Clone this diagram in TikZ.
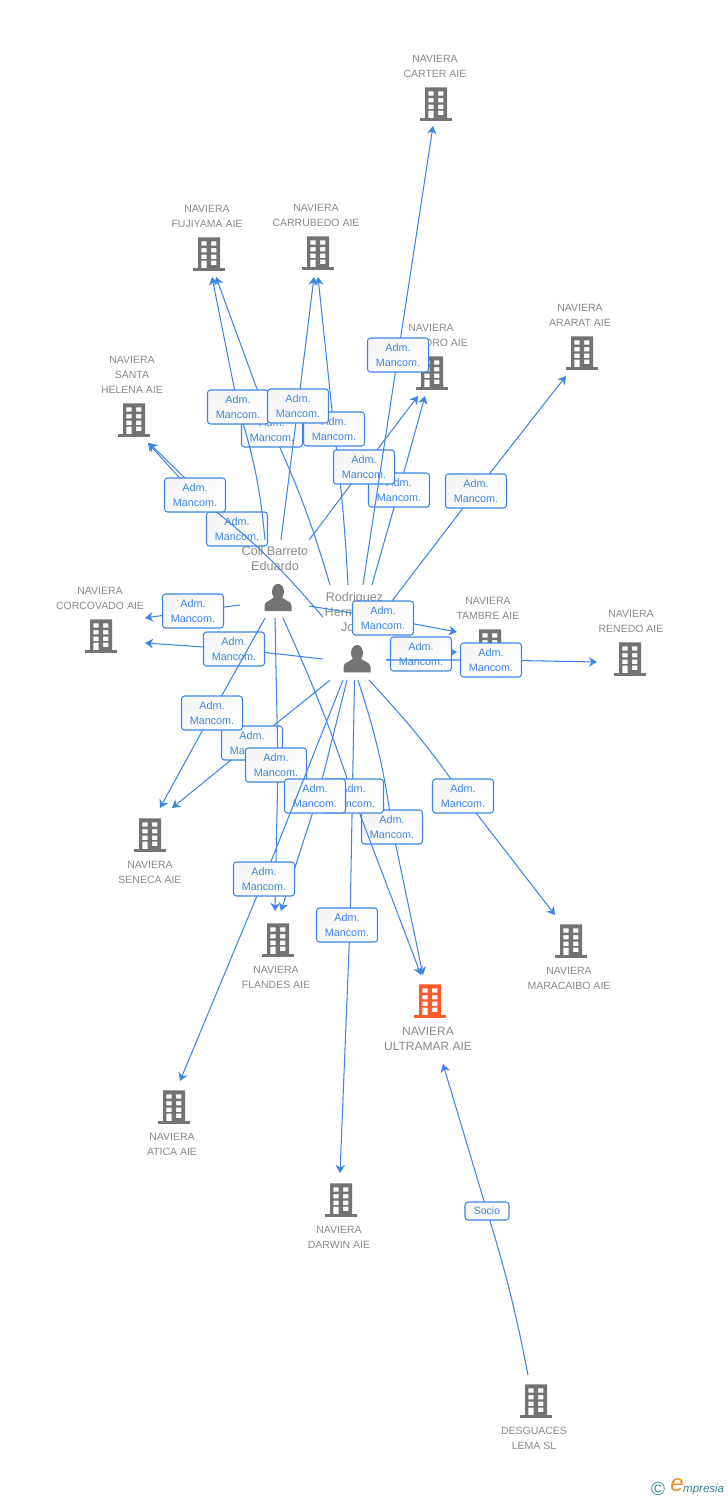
\documentclass[tikz,border=0pt]{standalone}
\usepackage{fontspec}
\setmainfont{Liberation Sans}
\usetikzlibrary{arrows.meta,shapes.geometric}
\definecolor{lnblue}{HTML}{3F86E4}
\definecolor{txtgray}{HTML}{8A8A8A}
\definecolor{icongray}{HTML}{737373}
\definecolor{hotorange}{HTML}{FF5A2B}
\definecolor{logoteal}{HTML}{3E7F9B}
\definecolor{logoorange}{HTML}{F28C28}
\tikzset{
  conn/.style={draw=lnblue,line width=1.05pt,-{Stealth[length=8pt,width=9.5pt,inset=2.5pt]}},
  rel/.style={draw=lnblue,line width=1.05pt,rounded corners=3pt,top color=black!4,bottom color=white,shading angle=35,
    text=lnblue,align=center,font=\fontsize{10.8}{15}\selectfont,minimum width=61pt,minimum height=34pt,inner sep=0pt},
  relsmall/.style={rel,minimum width=44pt,minimum height=18pt,font=\fontsize{10.5}{11}\selectfont},
  bname/.style={text=txtgray,align=center,font=\fontsize{10.5}{15}\selectfont,inner sep=0pt},
  bigname/.style={text=txtgray,align=center,font=\fontsize{12}{15}\selectfont,inner sep=0pt},
  personname/.style={text=txtgray,align=center,font=\fontsize{12.6}{15}\selectfont,inner sep=0pt},
  zone/.style={rectangle,inner sep=0pt},
  bzone/.style={circle,inner sep=0pt,minimum size=50pt},
}
\newcommand\bld[4][icongray]{%
  \node[bzone] (#2) at (#3,#4) {};
  \begin{scope}[shift={(#3,#4)}]
    \fill[#1,even odd rule] (-11,-16.7) rectangle (11,14.5)
      (-7.7,-12.7) rectangle (-2.3,-8.3) (2,-12.7) rectangle (7.3,-8.3)
      (-7.7,-6) rectangle (-2.3,-1.7) (2,-6) rectangle (7.3,-1.7)
      (-7.7,0.7) rectangle (-2.3,5) (2,0.7) rectangle (7.3,5)
      (-7.7,6.7) rectangle (-2.3,14.5) (2,6.7) rectangle (7.3,11);
    \fill[#1] (-16,14) rectangle (16,16.7);
  \end{scope}}
\newcommand\persona[2]{%
  \begin{scope}[shift={(#1,#2)}]
    \fill[icongray] (0,7.5) ellipse (6 and 8);
    \fill[icongray] (-13.5,26.8) -- (-13.5,21.5) .. controls (-13.5,17) and (-8,16.8) .. (-4,13) -- (4,13)
      .. controls (8,16.8) and (13.5,17) .. (13.5,21.5) -- (13.5,26.8) -- cycle;
  \end{scope}}
\begin{document}
\begin{tikzpicture}[x=1pt,y=-1pt]
\useasboundingbox (0,0) rectangle (728,1500);
\fill[white] (0,0) rectangle (728,1500);
% buildings
\bld{car}{436}{104}
\bld{fuj}{209}{254}
\bld{crr}{318}{253}
\bld{oro}{432}{373}
\bld{ara}{582}{353}
\bld{sth}{134}{420}
\bld{cor}{101}{636}
\bld{tam}{490}{646}
\bld{ren}{630}{659}
\bld{sen}{150}{835}
\bld{fla}{278}{940}
\bld{mar}{571}{941}
\bld[hotorange]{ult}{430}{1001}
\bld{ati}{174}{1107}
\bld{dar}{341}{1200}
\bld{des}{536}{1401}
% building names
\node[bname] (ncar) at (435,66.5) {NAVIERA\\CARTER AIE};
\node[bname] (nfuj) at (207,216.5) {NAVIERA\\FUJIYAMA AIE};
\node[bname] (ncrr) at (316,215.5) {NAVIERA\\CARRUBEDO AIE};
\node[bname] (noro) at (431,335.5) {NAVIERA\\\hspace*{30pt}ORO AIE};
\node[bname] (nara) at (580,315.5) {NAVIERA\\ARARAT AIE};
\node[bname] (nsth) at (132,375) {NAVIERA\\SANTA\\HELENA AIE};
\node[bname] (ncor) at (100,598.5) {NAVIERA\\CORCOVADO AIE};
\node[bname] (ntam) at (488,608.5) {NAVIERA\\TAMBRE AIE};
\node[bname] (nren) at (631,621.5) {NAVIERA\\RENEDO AIE};
\node[bname] (nsen) at (150,872.5) {NAVIERA\\SENECA AIE};
\node[bname] (nfla) at (276,977.5) {NAVIERA\\FLANDES AIE};
\node[bname] (nmar) at (569,978.5) {NAVIERA\\MARACAIBO AIE};
\node[bigname] (nult) at (428,1039) {NAVIERA\\ULTRAMAR AIE};
\node[bname] (nati) at (172,1144.5) {NAVIERA\\ATICA AIE};
\node[bname] (ndar) at (339,1237.5) {NAVIERA\\DARWIN AIE};
\node[bname] (ndes) at (534,1438.5) {DESGUACES\\LEMA SL};
% persons
\persona{278}{584.3}
\persona{357}{645.5}
\node[personname] (tcoll) at (275,558) {Coll Barreto\\Eduardo};
\node[personname] (trod) at (354.5,611.5) {Rodriguez\\Herm\phantom{osilla}\\Jo\phantom{se}};
\node[zone,minimum width=69pt,minimum height=78pt] (coll) at (274.5,579) {};
\node[zone,minimum width=63pt,minimum height=95pt] (rod) at (354.5,632.5) {};
% connectors with their labels
\draw[conn] ([shift={(-24.5,0)}]rod.north) to[bend right=4] (272,430) node[rel] (lc) {Adm.\\Mancom.} -- ([shift={(7,23)}]fuj.center);
\draw[conn] ([shift={(-6.5,0)}]rod.north) to[bend right=2] (334,429) node[rel] (ld) {Adm.\\Mancom.} -- ([shift={(0,24)}]crr.center);
\draw[conn] ([shift={(-9.5,0)}]coll.north) -- (237,529) node[rel] (lj) {Adm.\\Mancom.} -- ([shift={(15,23)}]sth.center);
\draw[conn] ([shift={(0,-15.5)}]rod.west) to[bend right=6] (195,495) node[rel] (li) {Adm.\\Mancom.} -- ([shift={(14,23)}]sth.center);
\draw[conn] ([shift={(-9.5,0)}]coll.north) to[bend right=6] (238,407) node[rel] (la) {Adm.\\Mancom.} -- ([shift={(3,23)}]fuj.center);
\draw[conn] ([shift={(6.5,0)}]coll.north) -- (298,406) node[rel] (lb) {Adm.\\Mancom.} -- ([shift={(-4,24)}]crr.center);
\draw[conn] ([shift={(17.5,0)}]rod.north) -- (399,490) node[rel] (lg) {Adm.\\Mancom.} -- ([shift={(-7,23)}]oro.center);
\draw[conn] (coll.north east) -- (364,467) node[rel] (lf) {Adm.\\Mancom.} -- ([shift={(-14,23)}]oro.center);
\draw[conn] ([shift={(8.5,0)}]rod.north) -- (398,355) node[rel] (le) {Adm.\\Mancom.} -- ([shift={(-3,22)}]car.center);
\draw[conn] ([shift={(0,-24)}]rod.east) -- (476,491) node[rel] (lh) {Adm.\\Mancom.} -- ([shift={(-16,23)}]ara.center);
\draw[conn] ([shift={(0,26)}]coll.west) -- (193,611) node[rel] (lk) {Adm.\\Mancom.} -- ([shift={(44,-18)}]cor.center);
\draw[conn] ([shift={(0,26.5)}]rod.west) -- (234,649) node[rel] (ll) {Adm.\\Mancom.} -- ([shift={(44,7)}]cor.center);
\draw[conn] ([shift={(-24.5,0)}]rod.south) -- (252,743) node[rel] (ln) {Adm.\\Mancom.} -- ([shift={(22,-27)}]sen.center);
\draw[conn] ([shift={(-9.5,0)}]coll.south) -- (212,713) node[rel] (lm) {Adm.\\Mancom.} -- ([shift={(10,-27)}]sen.center);
\draw[conn] ([shift={(0.5,0)}]coll.south) -- (278,765) node[rel,xshift=-2pt] (lo) {Adm.\\Mancom.} -- ([shift={(-3,-29)}]fla.center);
\draw[conn] ([shift={(0,27)}]coll.east) -- (383,618) node[rel] (lv) {Adm.\\Mancom.} -- ([shift={(-33,-14)}]tam.center);
\draw[conn] ([shift={(0,27.5)}]rod.east) -- (421,654) node[rel] (lw) {Adm.\\Mancom.} -- ([shift={(-33,6)}]tam.center);
\draw[conn] ([shift={(0,27.5)}]rod.east) -- (491,660) node[rel] (lx) {Adm.\\Mancom.} -- ([shift={(-33,3)}]ren.center);
\draw[conn] ([shift={(3.5,0)}]rod.south) to[bend left=5] (392,827) node[rel] (lr) {Adm.\\Mancom.} -- ([shift={(-7,-26)}]ult.center);
\draw[conn] (rod.south) -- (350,925) node[rel,xshift=-3pt] (lu) {Adm.\\Mancom.} -- ([shift={(-1,-27)}]dar.center);
\draw[conn] ([shift={(8.5,0)}]coll.south) to[bend left=3] (353,796) node[rel] (lq) {Adm.\\Mancom.} -- ([shift={(-9,-26)}]ult.center);
\draw[conn] ([shift={(-7.5,0)}]rod.south) -- (318,796) node[rel,xshift=-3pt] (lp) {Adm.\\Mancom.} -- ([shift={(3,-29)}]fla.center);
\draw[conn] ([shift={(-11.5,0)}]rod.south) -- (264,879) node[rel] (lt) {Adm.\\Mancom.} -- ([shift={(6,-26)}]ati.center);
\draw[conn] ([shift={(14.5,0)}]rod.south) to[bend left=4] (463,796) node[rel] (ls) {Adm.\\Mancom.} -- ([shift={(-16,-26)}]mar.center);
\draw[conn] ([shift={(-8,-26)}]des.center) to[bend right=3] (487,1211) node[relsmall] (lz) {Socio} -- ([shift={(13,63)}]ult.center);
% logo
\node[inner sep=0pt,text=logoteal,font=\fontsize{19}{19}\selectfont] (logoc) at (658,1488.5) {©};
\node[inner sep=0pt,text=logoorange,font=\fontsize{24}{24}\itshape\selectfont] (logoe) at (677,1485.5) {e};
\node[inner sep=0pt,anchor=west,text=logoteal,font=\fontsize{11.5}{12}\itshape\selectfont] (logot) at (683,1490) {mpresia};
\end{tikzpicture}
\end{document}
